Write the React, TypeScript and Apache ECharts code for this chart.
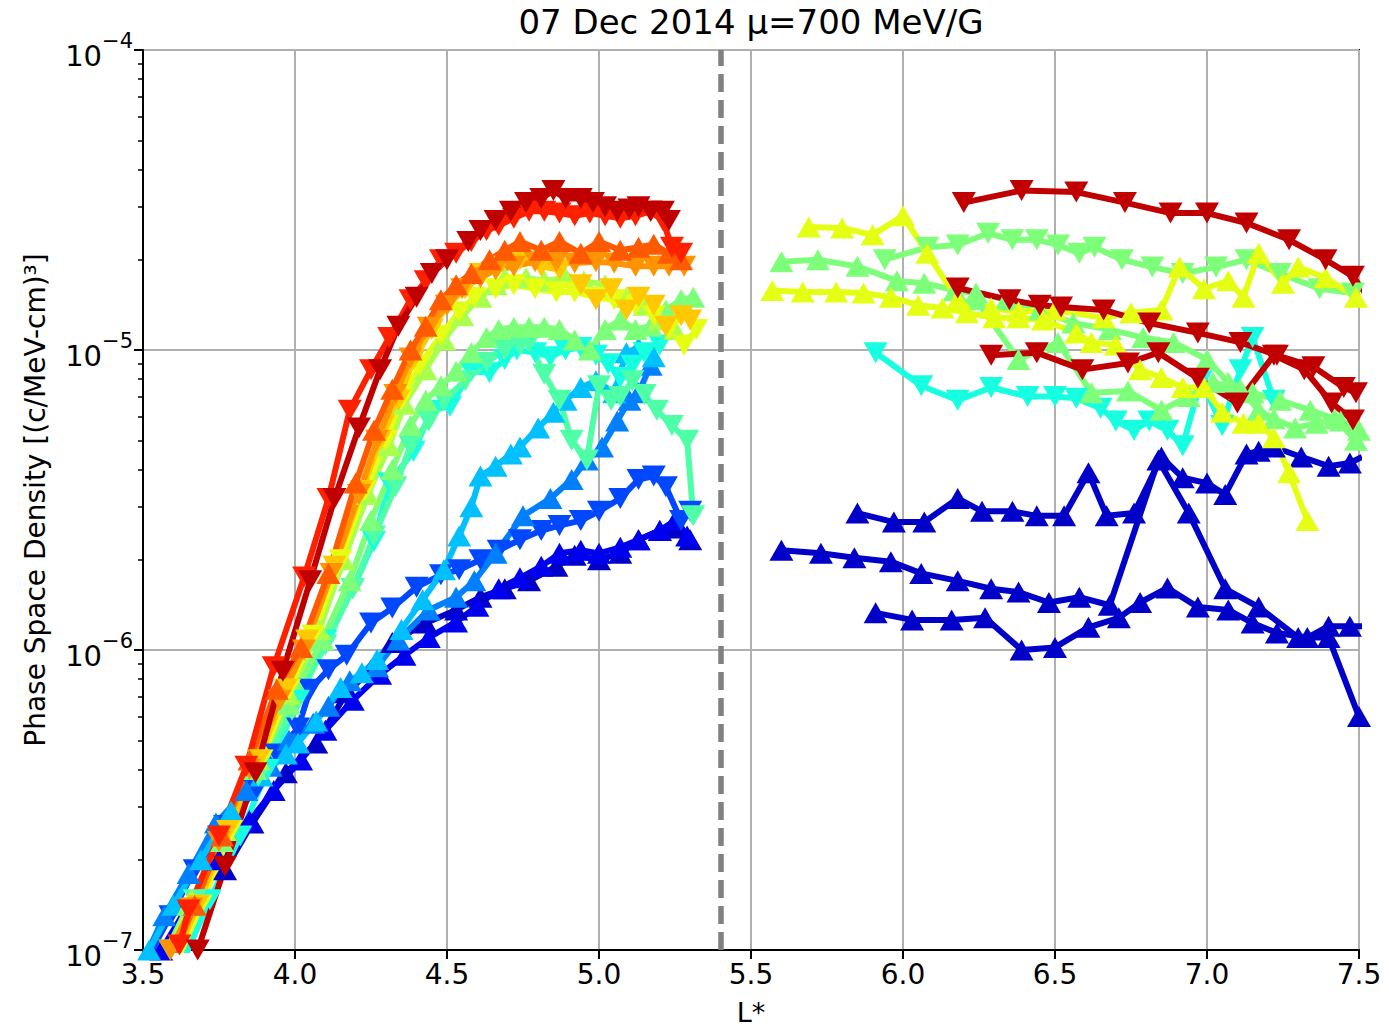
import { useEffect, useRef } from "react";
import * as echarts from "echarts";

type Pt = [number, number];

// ---------- inner zone (L* < 5.4) ----------
const innerDarkRed: Pt[] = [[3.68,1.0e-7],[3.77,1.9e-7],[3.87,3.9e-7],[3.96,8.5e-7],[4.05,1.7e-6],[4.13,3.2e-6],[4.21,5.5e-6],[4.28,8.6e-6],[4.34,1.2e-5],[4.40,1.5e-5],[4.45,1.8e-5],[4.50,2.0e-5],[4.57,2.3e-5],[4.61,2.5e-5],[4.66,2.7e-5],[4.71,2.9e-5],[4.76,3.1e-5],[4.81,3.2e-5],[4.85,3.4e-5],[4.89,3.2e-5],[4.94,3.2e-5],[4.98,3.1e-5],[5.02,3.0e-5],[5.06,2.9e-5],[5.10,2.95e-5],[5.13,3.0e-5],[5.17,2.9e-5],[5.21,2.9e-5],[5.23,2.7e-5]];
const innerRed: Pt[] = [[3.62,1.04e-7],[3.65,1.36e-7],[3.75,2.4e-7],[3.84,4.1e-7],[3.93,8.8e-7],[4.03,1.75e-6],[4.11,3.2e-6],[4.18,6.3e-6],[4.25,8.6e-6],[4.31,1.1e-5],[4.38,1.47e-5],[4.43,1.7e-5],[4.48,2.0e-5],[4.53,2.1e-5],[4.58,2.3e-5],[4.63,2.5e-5],[4.67,2.6e-5],[4.72,2.75e-5],[4.77,2.9e-5],[4.82,2.9e-5],[4.87,2.86e-5],[4.92,2.8e-5],[4.97,2.86e-5],[5.02,2.8e-5],[5.07,2.75e-5],[5.12,2.8e-5],[5.17,2.9e-5],[5.21,2.7e-5],[5.24,2.2e-5],[5.27,2.1e-5]];
const innerOrangeRed: Pt[] = [[3.60,9.6e-8],[3.67,1.41e-7],[3.76,2.4e-7],[3.85,4.3e-7],[3.94,7.4e-7],[4.02,1.02e-6],[4.11,1.8e-6],[4.20,3.6e-6],[4.26,5.4e-6],[4.32,7.4e-6],[4.38,1.0e-5],[4.43,1.2e-5],[4.48,1.47e-5],[4.53,1.65e-5],[4.58,1.8e-5],[4.64,2.0e-5],[4.69,2.15e-5],[4.74,2.3e-5],[4.81,2.15e-5],[4.87,2.3e-5],[4.94,2.1e-5],[5.00,2.3e-5],[5.07,2.15e-5],[5.13,2.2e-5],[5.18,2.25e-5],[5.23,2.1e-5],[5.27,2.0e-5]];
const innerOrange: Pt[] = [[3.59,1.0e-7],[3.66,1.38e-7],[3.75,2.3e-7],[3.85,4.0e-7],[3.95,6.8e-7],[4.03,1.0e-6],[4.12,1.8e-6],[4.21,3.3e-6],[4.27,5.0e-6],[4.33,7.1e-6],[4.38,9.4e-6],[4.44,1.19e-5],[4.50,1.41e-5],[4.55,1.6e-5],[4.61,1.74e-5],[4.66,1.85e-5],[4.72,1.9e-5],[4.79,1.97e-5],[4.86,1.97e-5],[4.92,1.95e-5],[4.99,1.97e-5],[5.05,1.95e-5],[5.12,1.9e-5],[5.18,1.9e-5],[5.23,1.9e-5],[5.28,1.9e-5]];
const innerGold: Pt[] = [[3.61,9.6e-8],[3.68,1.41e-7],[3.78,2.5e-7],[3.88,4.3e-7],[3.97,7.4e-7],[4.04,1.08e-6],[4.13,1.9e-6],[4.22,3.4e-6],[4.28,5.0e-6],[4.34,6.8e-6],[4.39,9.3e-6],[4.45,1.17e-5],[4.50,1.41e-5],[4.56,1.6e-5],[4.61,1.8e-5],[4.67,1.9e-5],[4.74,2.0e-5],[4.81,1.9e-5],[4.87,1.85e-5],[4.94,1.65e-5],[4.99,1.47e-5],[5.04,1.6e-5],[5.09,1.36e-5],[5.13,1.5e-5],[5.18,1.41e-5],[5.22,1.2e-5],[5.27,1.3e-5],[5.30,1.26e-5]];
const innerYellow: Pt[] = [[3.62,9.6e-8],[3.69,1.41e-7],[3.79,2.5e-7],[3.89,4.3e-7],[3.98,7.4e-7],[4.06,1.12e-6],[4.15,2.0e-6],[4.23,3.4e-6],[4.30,5.0e-6],[4.35,6.8e-6],[4.41,8.9e-6],[4.48,1.12e-5],[4.54,1.34e-5],[4.59,1.5e-5],[4.66,1.6e-5],[4.72,1.65e-5],[4.79,1.6e-5],[4.86,1.56e-5],[4.92,1.56e-5],[4.99,1.5e-5],[5.05,1.47e-5],[5.12,1.41e-5],[5.18,1.3e-5],[5.23,1.17e-5],[5.28,1.04e-5],[5.32,1.17e-5]];
const innerYellowGreen: Pt[] = [[3.58,9.6e-8],[3.66,1.47e-7],[3.77,2.5e-7],[3.88,4.3e-7],[3.98,7.1e-7],[4.08,1.17e-6],[4.16,2.0e-6],[4.24,3.3e-6],[4.31,4.8e-6],[4.36,6.6e-6],[4.43,8.6e-6],[4.49,1.08e-5],[4.55,1.3e-5],[4.61,1.5e-5],[4.66,1.65e-5],[4.69,1.74e-5],[4.76,1.74e-5],[4.82,1.7e-5],[4.89,1.74e-5],[4.95,1.7e-5],[5.02,1.65e-5],[5.09,1.5e-5],[5.15,1.41e-5],[5.20,1.26e-5],[5.25,1.17e-5]];
const innerLightGreen: Pt[] = [[3.57,9.6e-8],[3.65,1.41e-7],[3.76,2.3e-7],[3.87,4.0e-7],[3.98,6.6e-7],[4.09,1.08e-6],[4.18,1.7e-6],[4.25,2.7e-6],[4.32,4.0e-6],[4.38,5.6e-6],[4.43,6.8e-6],[4.48,7.6e-6],[4.53,8.5e-6],[4.58,9.8e-6],[4.63,1.1e-5],[4.67,1.17e-5],[4.72,1.19e-5],[4.77,1.19e-5],[4.82,1.19e-5],[4.87,1.17e-5],[4.92,1.08e-5],[4.97,1.0e-5],[5.02,1.17e-5],[5.07,1.26e-5],[5.12,1.17e-5],[5.17,1.2e-5],[5.22,1.36e-5],[5.27,1.47e-5],[5.31,1.5e-5]];
const innerAqua: Pt[] = [[3.59,1.0e-7],[3.67,1.47e-7],[3.77,2.3e-7],[3.88,3.8e-7],[3.99,6.3e-7],[4.10,1.04e-6],[4.19,1.6e-6],[4.26,2.4e-6],[4.33,3.5e-6],[4.38,4.8e-6],[4.44,5.8e-6],[4.49,6.8e-6],[4.56,7.9e-6],[4.63,9.1e-6],[4.69,1.0e-5],[4.74,1.04e-5],[4.77,1.06e-5],[4.82,8.3e-6],[4.87,6.8e-6],[4.91,5.0e-6],[4.96,4.3e-6],[5.00,7.6e-6],[5.04,6.8e-6],[5.07,7.0e-6],[5.11,7.9e-6],[5.15,7.1e-6],[5.19,6.3e-6],[5.24,5.6e-6],[5.29,5.0e-6],[5.31,2.8e-6]];
const innerCyan: Pt[] = [[3.64,9.6e-8],[3.72,1.47e-7],[3.82,2.4e-7],[3.91,4.0e-7],[4.01,6.8e-7],[4.10,1.08e-6],[4.19,1.6e-6],[4.26,2.3e-6],[4.31,3.6e-6],[4.39,4.6e-6],[4.45,6.3e-6],[4.51,6.5e-6],[4.58,8.5e-6],[4.64,8.4e-6],[4.69,9.3e-6],[4.73,1.0e-5],[4.79,9.8e-6],[4.84,9.5e-6],[4.89,1.0e-5],[4.94,1.02e-5],[4.99,9.6e-6],[5.03,9.0e-6],[5.07,8.1e-6],[5.11,8.9e-6],[5.15,9.8e-6],[5.20,1.04e-5]];
const innerSkyBlue: Pt[] = [[3.52,1.0e-7],[3.60,1.41e-7],[3.69,2.0e-7],[3.79,2.9e-7],[3.89,3.8e-7],[3.97,4.5e-7],[4.01,4.9e-7],[4.07,5.8e-7],[4.15,7.5e-7],[4.22,8.4e-7],[4.27,9.3e-7],[4.35,1.17e-6],[4.42,1.47e-6],[4.49,1.85e-6],[4.54,2.4e-6],[4.58,3.0e-6],[4.61,3.8e-6],[4.66,4.1e-6],[4.71,4.5e-6],[4.74,4.75e-6],[4.80,5.5e-6],[4.85,6.2e-6],[4.89,6.8e-6],[4.94,7.5e-6],[4.99,7.9e-6],[5.05,7.2e-6],[5.09,9.8e-6],[5.13,1.02e-5],[5.18,9.5e-6]];
const innerBlue: Pt[] = [[3.51,9.6e-8],[3.57,1.3e-7],[3.65,1.8e-7],[3.74,2.65e-7],[3.84,3.4e-7],[3.92,4.1e-7],[3.98,5.0e-7],[4.06,5.7e-7],[4.11,6.5e-7],[4.18,7.9e-7],[4.27,8.8e-7],[4.34,1.08e-6],[4.44,1.36e-6],[4.53,1.5e-6],[4.59,1.7e-6],[4.66,2.1e-6],[4.75,2.8e-6],[4.84,3.2e-6],[4.91,3.7e-6],[4.96,4.3e-6],[5.01,4.75e-6],[5.06,5.8e-6],[5.10,6.8e-6],[5.13,7.2e-6],[5.17,8.9e-6]];
const innerRoyalBlue: Pt[] = [[3.52,9.6e-8],[3.59,1.3e-7],[3.67,1.85e-7],[3.77,2.6e-7],[3.87,3.4e-7],[3.94,4.5e-7],[4.01,5.5e-7],[4.05,7.4e-7],[4.11,8.6e-7],[4.17,9.6e-7],[4.25,1.23e-6],[4.32,1.38e-6],[4.40,1.62e-6],[4.48,1.78e-6],[4.54,1.85e-6],[4.61,2.0e-6],[4.67,2.15e-6],[4.74,2.33e-6],[4.81,2.5e-6],[4.87,2.6e-6],[4.94,2.7e-6],[5.00,2.9e-6],[5.07,3.2e-6],[5.13,3.7e-6],[5.18,3.8e-6],[5.22,3.5e-6],[5.27,2.7e-6],[5.30,2.9e-6]];
const innerPureBlue: Pt[] = [[3.56,1.0e-7],[3.65,1.41e-7],[3.75,2.0e-7],[3.85,2.7e-7],[3.93,3.4e-7],[4.02,4.3e-7],[4.10,5.4e-7],[4.19,6.8e-7],[4.28,8.3e-7],[4.36,9.6e-7],[4.44,1.1e-6],[4.53,1.24e-6],[4.60,1.4e-6],[4.67,1.6e-6],[4.74,1.74e-6],[4.81,1.9e-6],[4.87,2.1e-6],[4.94,2.15e-6],[5.00,2.1e-6],[5.07,2.2e-6],[5.13,2.33e-6],[5.20,2.5e-6],[5.25,2.7e-6],[5.29,2.4e-6]];
const innerDarkBlue: Pt[] = [[3.77,1.85e-7],[3.86,2.65e-7],[3.97,3.9e-7],[4.07,4.9e-7],[4.17,7.2e-7],[4.25,8.6e-7],[4.32,1.06e-6],[4.43,1.23e-6],[4.53,1.36e-6],[4.61,1.5e-6],[4.69,1.6e-6],[4.77,1.7e-6],[4.86,1.9e-6],[4.92,2.07e-6],[5.00,2.0e-6],[5.07,2.1e-6],[5.13,2.33e-6],[5.20,2.5e-6],[5.25,2.55e-6],[5.30,2.33e-6]];

// ---------- outer zone (L* > 5.4) ----------
const outerDarkRed1: Pt[] = [[6.20,3.1e-5],[6.39,3.4e-5],[6.57,3.36e-5],[6.73,3.1e-5],[6.88,2.86e-5],[7.00,2.86e-5],[7.13,2.65e-5],[7.27,2.33e-5],[7.39,2.0e-5],[7.48,1.76e-5],[7.52,1.55e-5]];
const outerDarkRed2: Pt[] = [[6.18,1.61e-5],[6.35,1.47e-5],[6.45,1.41e-5],[6.52,1.39e-5],[6.66,1.36e-5],[6.81,1.23e-5],[6.97,1.14e-5],[7.11,1.06e-5],[7.23,9.6e-6],[7.35,8.8e-6],[7.45,7.5e-6],[7.49,7.2e-6]];
const outerDarkRed3: Pt[] = [[6.29,9.6e-6],[6.44,9.8e-6],[6.59,8.6e-6],[6.74,9.05e-6],[6.84,9.8e-6],[6.97,8.05e-6],[7.10,6.66e-6],[7.22,9.6e-6],[7.32,8.6e-6],[7.41,6.66e-6],[7.48,5.84e-6]];
const outerYellowA: Pt[] = [[5.69,2.57e-5],[5.80,2.55e-5],[5.90,2.42e-5],[6.00,2.8e-5],[6.08,2.1e-5],[6.18,1.47e-5],[6.29,1.38e-5],[6.38,1.34e-5],[6.50,1.36e-5],[6.66,1.28e-5],[6.75,1.33e-5],[6.85,1.36e-5],[6.91,1.89e-5],[6.99,1.6e-5],[7.07,1.7e-5],[7.12,1.5e-5],[7.17,2.1e-5],[7.25,1.67e-5],[7.30,1.89e-5],[7.39,1.74e-5],[7.49,1.5e-5]];
const outerYellowB: Pt[] = [[5.57,1.58e-5],[5.67,1.56e-5],[5.78,1.56e-5],[5.87,1.55e-5],[5.96,1.5e-5],[6.05,1.41e-5],[6.13,1.38e-5],[6.21,1.33e-5],[6.30,1.28e-5],[6.38,1.28e-5],[6.46,1.26e-5],[6.57,1.14e-5],[6.62,1.06e-5],[6.70,1.04e-5],[6.78,8.6e-6],[6.85,8.1e-6],[6.92,7.5e-6],[6.99,7.5e-6],[7.05,6.2e-6],[7.12,5.7e-6],[7.17,5.7e-6],[7.22,5.1e-6],[7.27,3.9e-6],[7.33,2.7e-6]];
const outerGreenDown: Pt[] = [[5.94,2.0e-5],[6.08,2.2e-5],[6.18,2.24e-5],[6.28,2.45e-5],[6.36,2.33e-5],[6.44,2.33e-5],[6.51,2.24e-5],[6.58,2.1e-5],[6.63,2.2e-5],[6.72,2.0e-5],[6.82,1.89e-5],[6.92,1.8e-5],[7.03,1.89e-5],[7.13,2.0e-5],[7.24,1.8e-5],[7.37,1.6e-5],[7.48,1.55e-5]];
const outerGreenUp1: Pt[] = [[5.60,1.97e-5],[5.72,2.0e-5],[5.85,1.9e-5],[5.98,1.7e-5],[6.07,1.67e-5],[6.17,1.58e-5],[6.24,1.55e-5],[6.34,1.47e-5],[6.45,1.36e-5],[6.56,1.23e-5],[6.68,1.17e-5],[6.79,1.1e-5],[6.89,1.06e-5],[7.00,9.3e-6],[7.07,7.8e-6],[7.15,7.2e-6],[7.24,6.8e-6],[7.34,6.3e-6],[7.44,5.8e-6],[7.50,5.4e-6]];
const outerGreenUp2: Pt[] = [[6.24,1.47e-5],[6.38,9.3e-6],[6.51,1.06e-5],[6.62,7.2e-6],[6.74,7.3e-6],[6.85,6.3e-6],[6.94,7.0e-6],[7.02,7.8e-6],[7.11,7.4e-6],[7.17,6.3e-6],[7.22,5.9e-6],[7.29,5.5e-6],[7.36,5.7e-6],[7.42,5.9e-6],[7.49,5.0e-6]];
const outerCyan: Pt[] = [[5.91,9.8e-6],[6.06,7.6e-6],[6.18,6.8e-6],[6.29,7.5e-6],[6.41,7.0e-6],[6.50,7.0e-6],[6.57,6.9e-6],[6.65,6.4e-6],[6.70,5.8e-6],[6.76,5.4e-6],[6.81,5.8e-6],[6.87,5.4e-6],[6.92,4.8e-6],[6.98,7.9e-6],[7.05,5.6e-6],[7.11,8.6e-6],[7.15,1.1e-5],[7.22,6.8e-6]];
const outerBlue1: Pt[] = [[5.85,2.86e-6],[5.97,2.67e-6],[6.07,2.67e-6],[6.18,3.2e-6],[6.26,2.9e-6],[6.36,2.9e-6],[6.44,2.8e-6],[6.53,2.8e-6],[6.61,3.9e-6],[6.67,2.8e-6],[6.76,2.86e-6],[6.85,4.4e-6],[6.92,3.75e-6],[7.00,3.6e-6],[7.06,3.3e-6],[7.13,4.5e-6],[7.17,4.6e-6],[7.22,4.75e-6],[7.31,4.4e-6],[7.40,4.1e-6],[7.47,4.2e-6],[7.51,4.4e-6]];
const outerBlue2: Pt[] = [[5.60,2.15e-6],[5.73,2.1e-6],[5.84,2.03e-6],[5.96,1.97e-6],[6.06,1.8e-6],[6.18,1.7e-6],[6.29,1.6e-6],[6.38,1.56e-6],[6.48,1.44e-6],[6.58,1.5e-6],[6.68,1.41e-6],[6.84,4.3e-6],[6.94,2.86e-6],[7.06,1.6e-6],[7.17,1.39e-6],[7.30,1.1e-6],[7.40,1.1e-6],[7.50,6.0e-7]];
const outerBlue3: Pt[] = [[5.91,1.33e-6],[6.03,1.26e-6],[6.16,1.26e-6],[6.27,1.28e-6],[6.39,1.0e-6],[6.50,1.02e-6],[6.61,1.19e-6],[6.71,1.28e-6],[6.78,1.44e-6],[6.87,1.61e-6],[6.97,1.39e-6],[7.07,1.36e-6],[7.15,1.23e-6],[7.23,1.14e-6],[7.33,1.1e-6],[7.40,1.2e-6],[7.47,1.2e-6],[7.51,1.2e-6]];

const minorTicks: number[] = [2e-7,3e-7,4e-7,5e-7,6e-7,7e-7,8e-7,9e-7,2e-6,3e-6,4e-6,5e-6,6e-6,7e-6,8e-6,9e-6,2e-5,3e-5,4e-5,5e-5,6e-5,7e-5,8e-5,9e-5];
const boundaryL = 5.4;

const C = {
  darkRed: "#c00000", red: "#ff2000", orangeRed: "#ff5a00", orange: "#ff9400", gold: "#ffc800",
  yellow: "#e4ff13", yellowGreen: "#a8ff4e", lightGreen: "#7dff7a", aqua: "#4effa8", cyan: "#16ffe1",
  skyBlue: "#00c0ff", blue: "#0080ff", royalBlue: "#0048ff", pureBlue: "#0000f1", darkBlue: "#0000c8",
};

type Def = { data: Pt[]; color: string; down: boolean };
const defs: Def[] = [
  { data: outerBlue3, color: C.darkBlue, down: false },
  { data: outerBlue2, color: C.darkBlue, down: false },
  { data: outerBlue1, color: C.darkBlue, down: false },
  { data: outerCyan, color: C.cyan, down: true },
  { data: outerGreenUp2, color: C.lightGreen, down: false },
  { data: outerGreenUp1, color: C.lightGreen, down: false },
  { data: outerGreenDown, color: C.lightGreen, down: true },
  { data: outerYellowB, color: C.yellow, down: false },
  { data: outerYellowA, color: C.yellow, down: false },
  { data: outerDarkRed3, color: C.darkRed, down: true },
  { data: outerDarkRed2, color: C.darkRed, down: true },
  { data: outerDarkRed1, color: C.darkRed, down: true },
  { data: innerDarkBlue, color: C.darkBlue, down: false },
  { data: innerPureBlue, color: C.pureBlue, down: false },
  { data: innerRoyalBlue, color: C.royalBlue, down: true },
  { data: innerBlue, color: C.blue, down: false },
  { data: innerSkyBlue, color: C.skyBlue, down: false },
  { data: innerCyan, color: C.cyan, down: true },
  { data: innerAqua, color: C.aqua, down: true },
  { data: innerLightGreen, color: C.lightGreen, down: false },
  { data: innerYellowGreen, color: C.yellowGreen, down: false },
  { data: innerYellow, color: C.yellow, down: true },
  { data: innerGold, color: C.gold, down: true },
  { data: innerOrange, color: C.orange, down: true },
  { data: innerOrangeRed, color: C.orangeRed, down: false },
  { data: innerRed, color: C.red, down: true },
  { data: innerDarkRed, color: C.darkRed, down: true },
];

const FONT = "DejaVu Sans";
const GRID_COLOR = "#b0b0b0";

export default function App() {
  const ref = useRef<HTMLDivElement>(null);
  useEffect(() => {
    if (!ref.current) return;
    const chart = echarts.init(ref.current, null, { renderer: "svg" });
    const dataSeries = defs.map((d, i) => ({
      type: "line",
      name: "s" + i,
      data: d.data,
      symbol: "triangle",
      symbolSize: [24, 21],
      symbolRotate: d.down ? 180 : 0,
      showSymbol: true,
      showAllSymbol: true,
      itemStyle: { color: d.color, borderWidth: 0 },
      lineStyle: { color: d.color, width: 6 },
      clip: true,
      z: 3,
      silent: true,
    }));
    const option: any = {
      animation: false,
      backgroundColor: "#ffffff",
      title: {
        text: "07 Dec 2014 μ=700 MeV/G",
        left: 751,
        top: 5,
        padding: 0,
        textAlign: "center",
        textStyle: { fontFamily: FONT, fontSize: 34, fontWeight: "normal", color: "#000" },
      },
      grid: {
        left: 143, right: 30, top: 50, bottom: 78,
        containLabel: false, outerBoundsMode: "none",
        show: true, borderColor: "#000", borderWidth: 2, backgroundColor: "transparent",
      },
      xAxis: {
        type: "value",
        min: 3.5,
        max: 7.5,
        interval: 0.5,
        name: "L*",
        nameLocation: "middle",
        nameGap: 49,
        nameTextStyle: { fontFamily: FONT, fontSize: 27, lineHeight: 27, color: "#000" },
        axisLine: { show: true, lineStyle: { color: "#000", width: 2 } },
        axisTick: { show: true, length: 9, lineStyle: { color: "#000", width: 2 } },
        axisLabel: { formatter: (v: number) => v.toFixed(1), fontFamily: FONT, fontSize: 28, color: "#000", margin: 10 },
        splitLine: { show: true, lineStyle: { color: GRID_COLOR, width: 2 } },
      },
      yAxis: [
        {
          type: "log",
          logBase: 10,
          min: 1e-7,
          max: 1e-4,
          name: "Phase Space Density [(c/MeV-cm)³]",
          nameLocation: "middle",
          nameGap: 94,
          nameRotate: 90,
          nameTextStyle: { fontFamily: FONT, fontSize: 28, color: "#000" },
          axisLine: { show: true, lineStyle: { color: "#000", width: 2 } },
          axisTick: { show: true, length: 9, lineStyle: { color: "#000", width: 2 } },
          axisLabel: {
            margin: 10,
            formatter: (v: number) => {
              const e = Math.round(Math.log10(v));
              return "{b|10}{s|−" + String(-e) + "}";
            },
            rich: {
              b: { fontFamily: FONT, fontSize: 29, color: "#000", lineHeight: 40, verticalAlign: "bottom" },
              s: { fontFamily: FONT, fontSize: 21, color: "#000", verticalAlign: "top" },
            },
          },
          splitLine: { show: true, lineStyle: { color: GRID_COLOR, width: 2 } },
        },
        {
          type: "log",
          logBase: 10,
          min: 1e-7,
          max: 1e-4,
          position: "left",
          axisLine: { show: false },
          axisLabel: { show: false },
          splitLine: { show: false },
          axisTick: { show: true, length: 5, lineStyle: { color: "#000", width: 1.5 }, customValues: minorTicks },
        },
      ],
      series: [
        {
          type: "line",
          data: [[3.5, 1e-7]],
          showSymbol: false,
          symbol: "none",
          lineStyle: { opacity: 0 },
          silent: true,
          z: 1,
          markLine: {
            silent: true,
            z: 1,
            symbol: ["none", "none"],
            label: { show: false },
            lineStyle: { color: GRID_COLOR, width: 2, type: "solid" },
            data: minorTicks.map((v) => ({ yAxis: v })),
          },
        },
        {
          type: "line",
          data: [[3.5, 1e-7]],
          showSymbol: false,
          symbol: "none",
          lineStyle: { opacity: 0 },
          silent: true,
          z: 2,
          markLine: {
            silent: true,
            z: 2,
            symbol: ["none", "none"],
            label: { show: false },
            lineStyle: { color: "#808080", width: 5.5, type: [18, 8] },
            data: [{ xAxis: boundaryL }],
          },
        },
        ...dataSeries,
      ],
    };
    chart.setOption(option);
    return () => chart.dispose();
  }, []);
  return (
    <div
      ref={ref}
      style={{ position: "fixed", left: 0, top: 0, width: 1389, height: 1028, background: "#fff" }}
    />
  );
}
